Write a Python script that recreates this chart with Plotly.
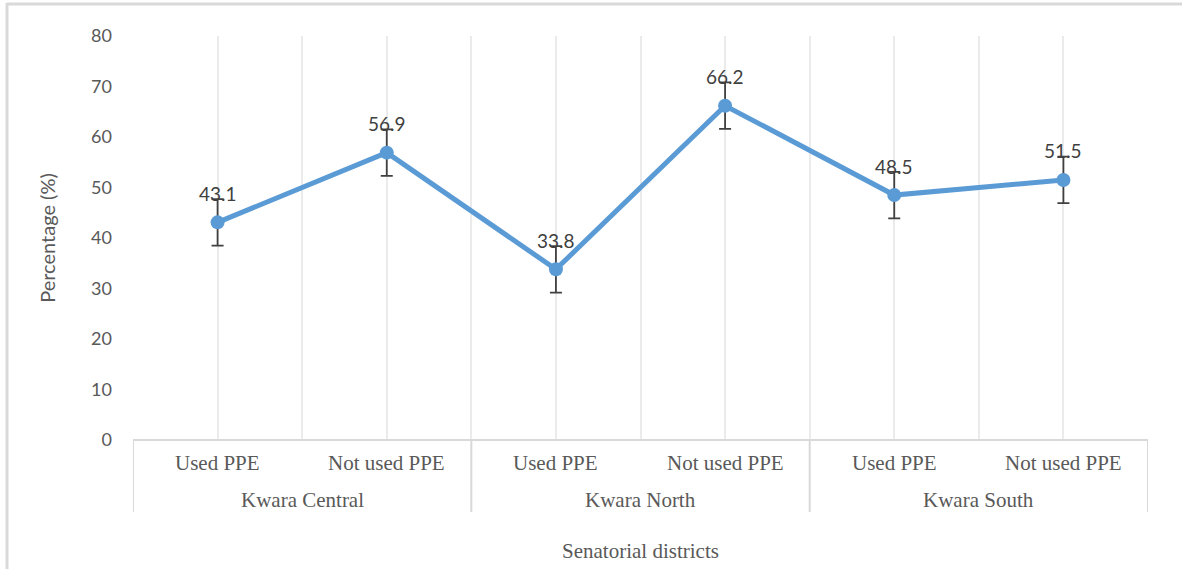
import plotly.graph_objects as go

groups = ["Kwara Central", "Kwara North", "Kwara South"]
subcats = ["Used PPE", "Not used PPE"]
values = [43.1, 56.9, 33.8, 66.2, 48.5, 51.5]
errors = [4.6, 4.6, 4.6, 4.6, 4.6, 4.6]
y_ticks = [0, 10, 20, 30, 40, 50, 60, 70, 80]

xs = list(range(len(values)))
sub_labels = [subcats[i % 2] for i in xs]

SERIF = "Liberation Serif"
SANS = "Lato"
TXT = "#595959"
GRID = "#ebebeb"
BORDER = "#d9d9d9"

W, H = 1182, 569
L, R, T, B = 133, 34, 36, 129
PH = H - T - B  # 404
PW = W - L - R  # 1015

fig = go.Figure()
fig.add_trace(go.Scatter(
    x=xs, y=values, mode="lines+markers",
    line=dict(color="#5B9BD5", width=5),
    marker=dict(color="#5B9BD5", size=14),
    error_y=dict(type="data", array=errors, visible=True, color="#404040",
                 thickness=1.8, width=6),
    cliponaxis=False, showlegend=False,
))

for x, v in zip(xs, values):
    fig.add_annotation(x=x, y=v, xref="x", yref="y", text=f"{v:.1f}", showarrow=False,
                       yshift=29, font=dict(family=SANS, size=19, color="#404040"))

fig.update_layout(
    width=W, height=H,
    margin=dict(l=L, r=R, t=T, b=B),
    paper_bgcolor="white", plot_bgcolor="white",
    font=dict(family=SERIF, color=TXT, size=20),
    xaxis=dict(range=[-0.5, len(values) - 0.5], tickmode="linear", tick0=-0.5, dtick=0.5,
               showticklabels=False, showgrid=True, gridcolor=GRID, gridwidth=1.5,
               zeroline=False, showline=False, ticks=""),
    yaxis=dict(range=[0, 80], tickvals=y_ticks, showgrid=False, zeroline=False,
               showline=False, ticks="", ticklabelstandoff=20,
               tickfont=dict(family=SANS, size=18, color=TXT),
               title=dict(text="Percentage (%)", font=dict(family=SANS, size=20, color=TXT),
                          standoff=30)),
)

# horizontal axis line and group separators
fig.add_shape(type="line", xref="x", yref="paper", x0=-0.5, x1=len(values) - 0.5, y0=0, y1=0,
              line=dict(color=BORDER, width=2))
for k in range(len(groups) + 1):
    xb = -0.5 + 2 * k
    fig.add_shape(type="line", xref="x", yref="paper", x0=xb, x1=xb, y0=0, y1=-72 / PH,
                  line=dict(color=BORDER, width=2))

for i in xs:
    fig.add_annotation(x=i, y=-23 / PH, xref="x", yref="paper", text=sub_labels[i],
                       showarrow=False, font=dict(size=21, color=TXT), yanchor="middle")
for g, name in enumerate(groups):
    fig.add_annotation(x=2 * g + 0.5, y=-60 / PH, xref="x", yref="paper", text=name,
                       showarrow=False, font=dict(size=21, color=TXT), yanchor="middle")

fig.add_annotation(x=0.5, y=-111 / PH, xref="paper", yref="paper", text="Senatorial districts",
                   showarrow=False, font=dict(size=21, color=TXT), yanchor="middle")

# outer chart border (left and top edges visible)
def px_x(p):
    return (p - L) / PW

def px_y(p):
    return (H - B - p) / PH

fig.add_shape(type="line", xref="paper", yref="paper", x0=px_x(7), x1=px_x(7),
              y0=px_y(3), y1=px_y(H + 5), line=dict(color=BORDER, width=3), layer="below")
fig.add_shape(type="line", xref="paper", yref="paper", x0=px_x(7), x1=px_x(W + 5),
              y0=px_y(4), y1=px_y(4), line=dict(color=BORDER, width=3), layer="below")

fig.write_html("out.html", config={"displayModeBar": False},
               post_script="document.body.style.margin='0px';")
